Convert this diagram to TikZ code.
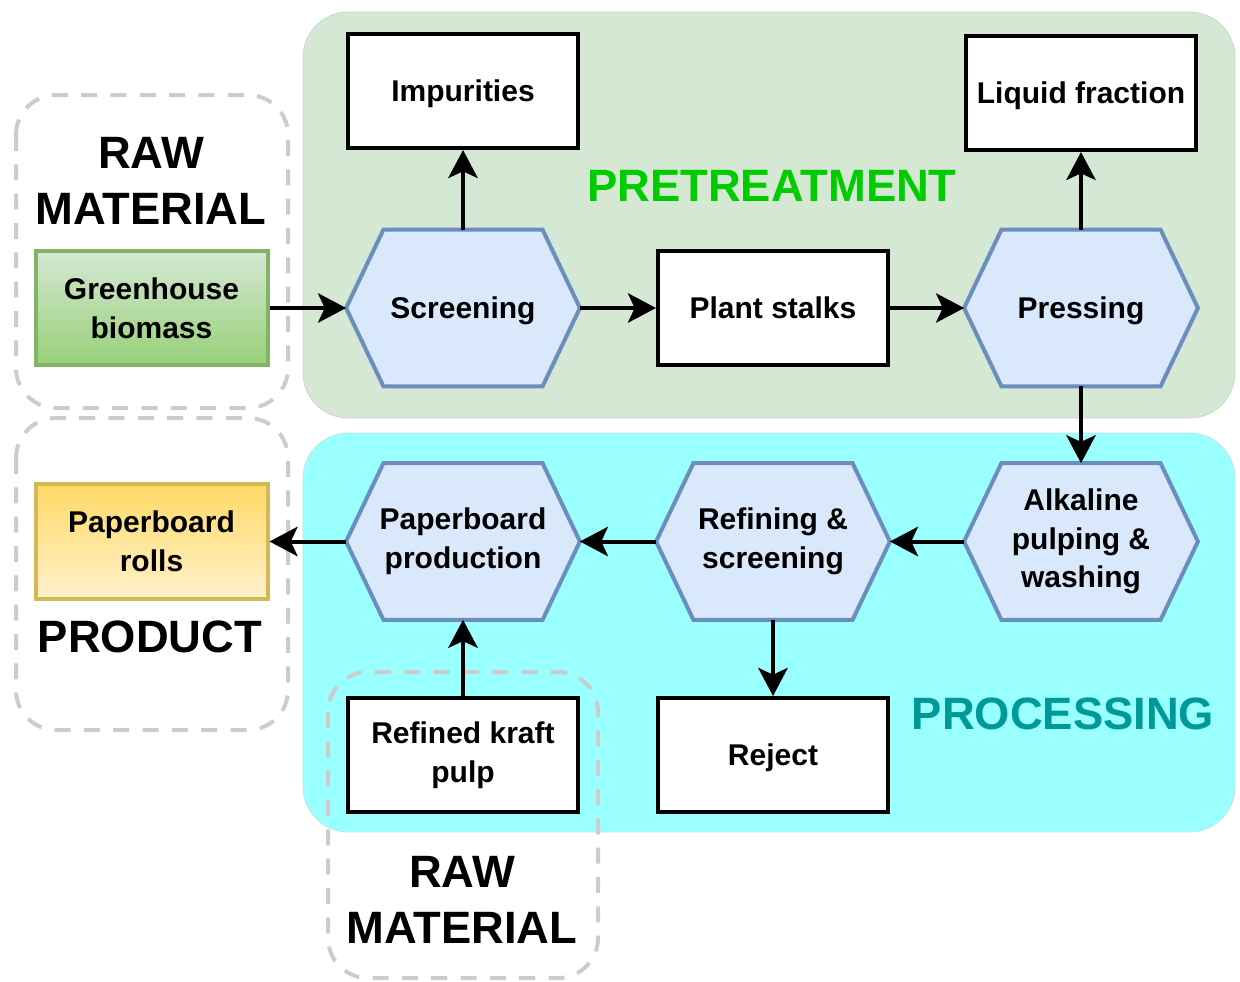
\documentclass[tikz,border=0pt]{standalone}
\usepackage{fontspec}
\setmainfont{Liberation Sans}
\usetikzlibrary{arrows.meta,backgrounds}
\definecolor{regG}{HTML}{D5E8D4}
\definecolor{regC}{HTML}{99FFFF}
\definecolor{hexF}{HTML}{DAE8FC}
\definecolor{hexD}{HTML}{6C8EBF}
\definecolor{gTop}{HTML}{D5E8D4}
\definecolor{gBot}{HTML}{97D077}
\definecolor{gD}{HTML}{82B366}
\definecolor{yTop}{HTML}{FFD966}
\definecolor{yBot}{HTML}{FFF2CC}
\definecolor{yD}{HTML}{D6B656}
\definecolor{ptgreen}{HTML}{00CC00}
\definecolor{prteal}{HTML}{009999}
\definecolor{dashG}{HTML}{CCCCCC}
\pgfdeclarelayer{back}
\pgfdeclarelayer{mid}
\pgfsetlayers{back,mid,main}
\tikzset{
  txt/.style={font=\bfseries\fontsize{22.5}{29}\selectfont, align=center, inner sep=0pt},
  oneline/.style={text depth=0pt},
  bigtxt/.style={font=\bfseries\fontsize{34}{42}\selectfont, align=center, inner sep=0pt},
  whitebox/.style={txt, draw=black, line width=3pt, fill=white, minimum width=172.5pt, minimum height=85.5pt},
  hexnode/.style={txt, minimum width=175pt, minimum height=117pt},
  hexdraw/.style={draw=hexD, fill=hexF, line width=3pt, line join=miter},
  region/.style={rounded corners=34pt, line width=0.6pt},
  dashbox/.style={draw=dashG, line width=3pt, dash pattern=on 12pt off 10pt, rounded corners=30pt},
  arr/.style={line width=3pt, -{Stealth[length=21pt,width=22pt,inset=5pt]}},
}
\newcommand{\hexof}[1]{%
  \draw[hexdraw] (#1.west) -- ([xshift=28pt]#1.north west) -- ([xshift=-28pt]#1.north east)
    -- (#1.east) -- ([xshift=-28pt]#1.south east) -- ([xshift=28pt]#1.south west) -- cycle;}
\begin{document}
\begin{tikzpicture}[x=0.75pt,y=-0.75pt]
\useasboundingbox (0,0) rectangle (1240,982);
% regions
\begin{pgfonlayer}{back}
\draw[region, draw=regG!80!black!60, fill=regG] (303,12) rectangle (1235,418);
\draw[region, draw=regC!80!black!50, fill=regC] (303,433) rectangle (1235,832);
\draw[dashbox] (16,95) rectangle (288,408);
\draw[dashbox] (16,418) rectangle (288,730);
\draw[dashbox] (328,672) rectangle (598,978);
\end{pgfonlayer}

% boxes
\node[whitebox, oneline] (imp) at (463,91) {Impurities};
\node[whitebox, oneline] (liq) at (1081,93) {Liquid fraction};
\node[whitebox, oneline] (plant) at (773,308) {Plant stalks};
\node[whitebox, oneline] (rej) at (773,755) {Reject};
\node[whitebox] (kraft) at (463,755) {Refined kraft\\pulp};

\node[txt, draw=gD, line width=3pt, top color=gTop, bottom color=gBot, minimum width=174pt, minimum height=86pt] (gb) at (151.5,308) {Greenhouse\\biomass};
\node[txt, draw=yD, line width=3pt, top color=yTop, bottom color=yBot, minimum width=174pt, minimum height=86pt] (roll) at (151.5,541.5) {Paperboard\\rolls};

% hexagons
\node[hexnode, oneline] (scr) at (463,308) {Screening};
\node[hexnode, oneline] (prs) at (1081,308) {Pressing};
\node[hexnode] (alk) at (1081,541.5) {Alkaline\\pulping \&\\washing};
\node[hexnode] (ref) at (773,541.5) {Refining \&\\screening};
\node[hexnode] (pap) at (463,541.5) {Paperboard\\production};
\begin{pgfonlayer}{mid}
\hexof{scr}\hexof{prs}\hexof{alk}\hexof{ref}\hexof{pap}
\end{pgfonlayer}

% labels
\node[bigtxt] (rm1) at (151,181) {RAW\\MATERIAL};
\node[bigtxt] (prod) at (150,637) {PRODUCT};
\node[bigtxt] (rm2) at (462,900) {RAW\\MATERIAL};
\node[bigtxt, text=ptgreen] (pre) at (772,186) {PRETREATMENT};
\node[bigtxt, text=prteal] (proc) at (1063,714) {PROCESSING};

% arrows
\draw[arr] (gb.east) -- (scr.west);
\draw[arr] (scr.north) -- (imp.south);
\draw[arr] (scr.east) -- (plant.west);
\draw[arr] (plant.east) -- (prs.west);
\draw[arr] (prs.north) -- (liq.south);
\draw[arr] (prs.south) -- (alk.north);
\draw[arr] (alk.west) -- (ref.east);
\draw[arr] (ref.west) -- (pap.east);
\draw[arr] (pap.west) -- (roll.east);
\draw[arr] (ref.south) -- (rej.north);
\draw[arr] (kraft.north) -- (pap.south);
\end{tikzpicture}
\end{document}
